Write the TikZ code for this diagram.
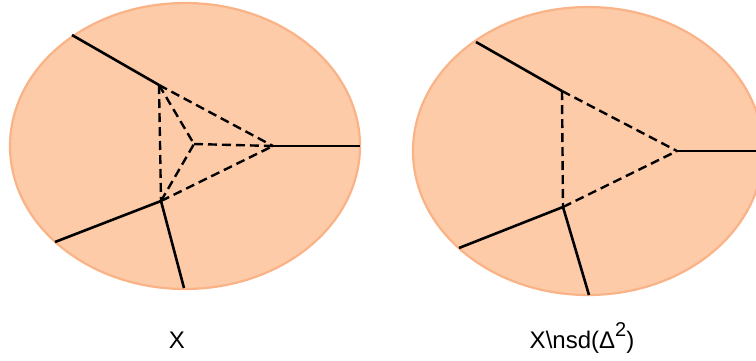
\documentclass[tikz,border=0pt]{standalone}
\usepackage{fontspec}
\setmainfont{Liberation Sans}
\usetikzlibrary{positioning}
\definecolor{pesca}{HTML}{FDCBA8}
\definecolor{bordopesca}{HTML}{FAB387}

\begin{document}
\begin{tikzpicture}[
  x=1pt, y=-1pt,
  regione/.style={draw=bordopesca, line width=2.2pt, fill=pesca},
  filo/.style={draw=black, line width=2.6pt},
  tratteggio/.style={draw=black, line width=2.4pt, dash pattern=on 9pt off 5pt},
  etichetta/.style={inner sep=0pt, anchor=base, font=\fontsize{24}{28}\selectfont}
]
\useasboundingbox (0,0) rectangle (756,360);

% Regioni
\draw[regione] (185,146) ellipse [x radius=175, y radius=143];
\draw[regione] (588,151) ellipse [x radius=175, y radius=144];

% Primo disegno
\coordinate (sA) at (159,85);
\coordinate (sB) at (161,201);
\coordinate (sC) at (194,144);
\coordinate (sR) at (273,146);
\coordinate (sA1) at (72,35);
\coordinate (sB1) at (55,242);
\coordinate (sB2) at (184,288);
\coordinate (sR1) at (360,146);

\draw[filo] (sA1) -- (sA);
\draw[filo] (sB1) -- (sB) -- (sB2);
\draw[filo] (sR) -- (sR1);
\draw[tratteggio] (sA) -- (sB);
\draw[tratteggio] (sA) -- (sR);
\draw[tratteggio] (sB) -- (sR);
\draw[tratteggio] (sA) -- (sC);
\draw[tratteggio] (sB) -- (sC);
\draw[tratteggio] (sC) -- (sR);

% Secondo disegno
\coordinate (dA) at (562,91);
\coordinate (dB) at (563,207);
\coordinate (dR) at (677,151);
\coordinate (dA1) at (476,42);
\coordinate (dB1) at (459,248);
\coordinate (dB2) at (589,295);
\coordinate (dR1) at (763,151);

\draw[filo] (dA1) -- (dA);
\draw[filo] (dB1) -- (dB) -- (dB2);
\draw[filo] (dR) -- (dR1);
\draw[tratteggio] (dA) -- (dB);
\draw[tratteggio] (dA) -- (dR);
\draw[tratteggio] (dB) -- (dR);

\node[etichetta] (lsin) at (177,348) {X};
\node[etichetta] (ldes) at (582,348) {X\textbackslash nsd(Δ\raisebox{0.5em}{\fontsize{20}{24}\selectfont 2})};

\end{tikzpicture}
\end{document}
